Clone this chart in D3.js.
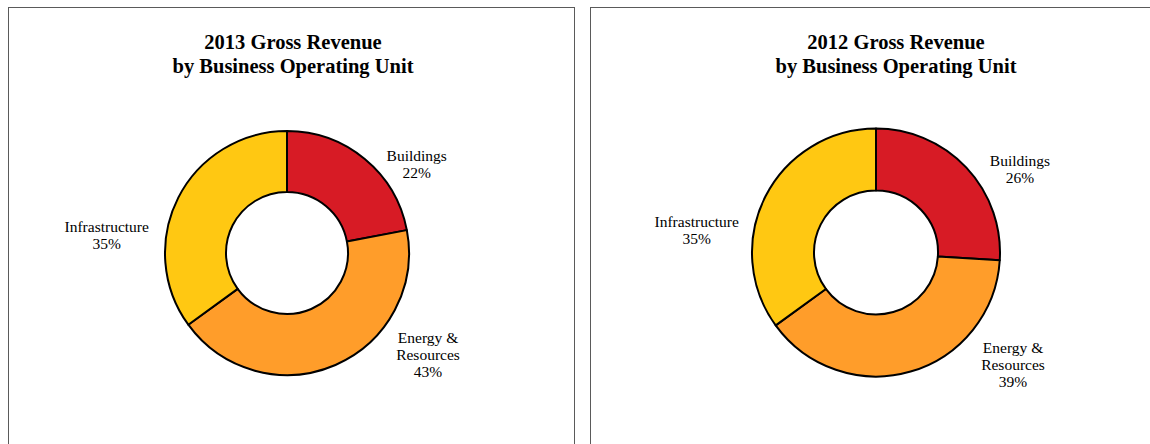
<!DOCTYPE html>
<html>
<head>
<meta charset="utf-8">
<script src="https://cdn.jsdelivr.net/npm/d3@7"></script>
<style>
  html, body { margin: 0; padding: 0; background: #fff; }
  svg { display: block; }
  text { font-family: "Liberation Serif", "Times New Roman", serif; fill: #000; }
</style>
</head>
<body>
<svg id="chart" width="1150" height="444"></svg>
<script>
// Revenue share by business operating unit (percent)
const units = ["Buildings", "Energy & Resources", "Infrastructure"];
const unitLabelLines = [["Buildings"], ["Energy &", "Resources"], ["Infrastructure"]];
const revenue2013 = [22, 43, 35];
const revenue2012 = [26, 39, 35];
const years = ["2013", "2012"];
const unitColors = ["#D71B25", "#FF9D2A", "#FFC812"];

// Panel layout: frame, donut centre, title centre and label anchors (x, first baseline)
const panels = [
  {
    year: years[0], values: revenue2013,
    frame: { x: 8.5, y: 7.5, w: 566, h: 460 },
    cx: 287, cy: 253, outer: 122, inner: 61,
    titleX: 293,
    labels: [[416.7, 161], [428, 343], [106.7, 232]]
  },
  {
    year: years[1], values: revenue2012,
    frame: { x: 590.5, y: 7.5, w: 600, h: 460 },
    cx: 876, cy: 252.5, outer: 124, inner: 62,
    titleX: 896,
    labels: [[1020, 166], [1013, 353], [696.7, 227]]
  }
];

const svg = d3.select("#chart");
const color = d3.scaleOrdinal().domain(units).range(unitColors);
const pie = d3.pie().sort(null).value(d => d.value).startAngle(0).endAngle(2 * Math.PI);

panels.forEach(p => {
  const g = svg.append("g");

  g.append("rect")
    .attr("x", p.frame.x).attr("y", p.frame.y)
    .attr("width", p.frame.w).attr("height", p.frame.h)
    .attr("fill", "#fff")
    .attr("stroke", "#5a5a5a")
    .attr("stroke-width", 1);

  const title = g.append("text")
    .attr("text-anchor", "middle")
    .attr("font-weight", "bold")
    .attr("font-size", "20.5px");
  title.append("tspan").attr("x", p.titleX).attr("y", 48.5).text(p.year + " Gross Revenue");
  title.append("tspan").attr("x", p.titleX).attr("y", 72.5).text("by Business Operating Unit");

  const data = units.map((u, i) => ({ unit: u, value: p.values[i], lines: unitLabelLines[i] }));
  const arc = d3.arc().innerRadius(p.inner).outerRadius(p.outer);

  const donut = g.append("g").attr("transform", `translate(${p.cx},${p.cy})`);
  donut.selectAll("path")
    .data(pie(data))
    .join("path")
    .attr("d", arc)
    .attr("fill", d => color(d.data.unit))
    .attr("stroke", "#000")
    .attr("stroke-width", 2)
    .attr("stroke-linejoin", "round");

  data.forEach((d, i) => {
    const [lx, ly] = p.labels[i];
    const t = g.append("text")
      .attr("text-anchor", "middle")
      .attr("font-size", "15.5px");
    d.lines.concat([d.value + "%"]).forEach((line, k) => {
      t.append("tspan").attr("x", lx).attr("y", ly + k * 17.2).text(line);
    });
  });
});
</script>
</body>
</html>
